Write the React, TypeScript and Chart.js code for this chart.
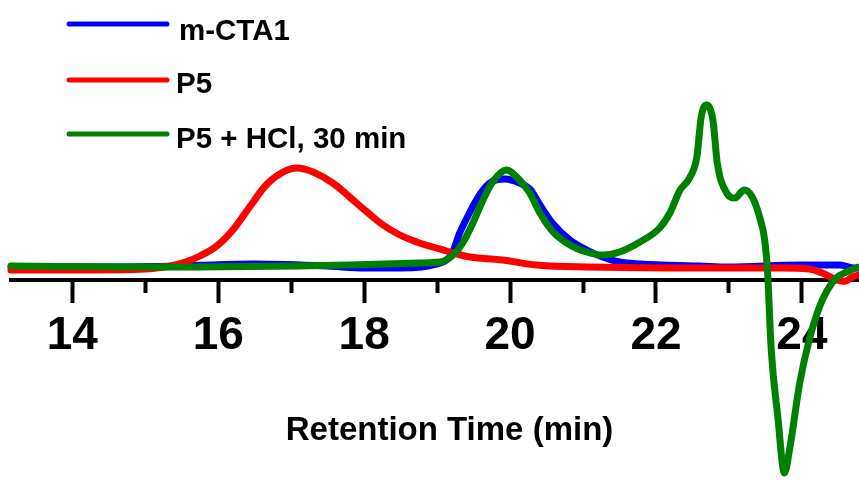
import React, { useEffect, useRef } from 'react';
import { Chart, registerables } from 'chart.js';

Chart.register(...registerables);

// Axis range and ticks (minutes)
const xMin = 13.16;
const xMax = 25.18;
const tickStep = 1;
const labelledTicks = [14, 16, 18, 20, 22, 24];
const axisTitle = 'Retention Time (min)';

// Series labels and colours
const seriesLabels = ['m-CTA1', 'P5', 'P5 + HCl, 30 min'];
const seriesColors = ['#0000FF', '#FF0000', '#008000'];

// m-CTA1 (blue)
const ctaTime = [13.16, 14.5, 15.5, 16.5, 17.5, 18.0, 18.5, 19.0, 19.2, 19.31, 19.45, 19.59, 19.72, 19.93, 20.13, 20.27, 20.41, 20.59, 20.82, 21.05, 21.27, 21.5, 21.78, 22.6, 23.0, 23.97, 24.52, 24.72, 24.78];
const ctaSignal = [13, 13, 14, 16, 14, 12, 12, 16, 26, 47, 68, 86, 97, 101, 97, 91, 75, 56, 40, 30, 23, 18, 16, 14, 13, 15, 15, 12, 12];

// P5 (red)
const p5Time = [13.16, 14.0, 15.0, 15.34, 15.55, 15.75, 15.98, 16.2, 16.43, 16.67, 16.89, 17.08, 17.3, 17.57, 17.8, 18.04, 18.26, 18.49, 18.72, 18.94, 19.13, 19.22, 19.45, 19.9, 20.37, 21.05, 22.33, 23.5, 24.1, 24.28, 24.48, 24.6, 24.69, 24.78];
const p5Signal = [10, 10, 11, 14, 18, 24, 34, 50, 73, 96, 108, 112, 108, 97, 83, 68, 55, 45, 38, 33, 29, 27, 23, 20, 15, 13, 12, 12, 11, 7, 0, -1, 3, 5];

// P5 + HCl, 30 min (green)
const hclTime = [13.16, 15.06, 17.8, 18.76, 19.04, 19.22, 19.35, 19.49, 19.63, 19.76, 19.95, 20.13, 20.27, 20.41, 20.59, 20.82, 21.05, 21.27, 21.5, 21.78, 22.05, 22.19, 22.33, 22.46, 22.56, 22.62, 22.69, 22.78, 22.84, 22.97, 23.08, 23.21, 23.32, 23.42, 23.49, 23.53, 23.58, 23.67, 23.76, 23.83, 23.97, 24.1, 24.24, 24.35, 24.47, 24.61, 24.78];
const hclSignal = [14, 13, 15, 17, 18, 25, 37, 57, 80, 98, 110, 100, 87, 67, 48, 35, 28, 25, 28, 38, 52, 67, 90, 102, 123, 163, 175, 160, 117, 87, 82, 90, 83, 63, 40, 7, -70, -137, -193, -170, -103, -60, -27, -10, 2, 8, 13];

const FONT = "'Liberation Sans', Arial, sans-serif";

const toPoints = (xs: number[], ys: number[]) => xs.map((x, i) => ({ x, y: ys[i] }));

const legendPlugin = {
  id: 'sketchLegend',
  afterDraw(chart: any) {
    const ctx = chart.ctx as CanvasRenderingContext2D;
    const lineYs = [24, 80, 134];
    const textYs = [40, 93, 148];
    chart.data.datasets.forEach((ds: any, i: number) => {
      ctx.save();
      ctx.strokeStyle = ds.borderColor;
      ctx.lineWidth = 5;
      ctx.lineCap = 'round';
      ctx.beginPath();
      ctx.moveTo(69, lineYs[i]);
      ctx.lineTo(167, lineYs[i]);
      ctx.stroke();
      ctx.fillStyle = '#000';
      ctx.font = `bold 29.5px ${FONT}`;
      ctx.textBaseline = 'alphabetic';
      ctx.textAlign = 'left';
      ctx.fillText(ds.label, i === 0 ? 179 : 176, textYs[i]);
      ctx.restore();
    });
  },
};

export default function App() {
  const ref = useRef<HTMLCanvasElement | null>(null);

  useEffect(() => {
    if (!ref.current) return;
    const series = [
      toPoints(ctaTime, ctaSignal),
      toPoints(p5Time, p5Signal),
      toPoints(hclTime, hclSignal),
    ];
    const drawOrder = [3, 2, 1];
    const chart = new Chart(ref.current, {
      type: 'line',
      data: {
        datasets: series.map((data, i) => ({
          label: seriesLabels[i],
          data,
          borderColor: seriesColors[i],
          backgroundColor: seriesColors[i],
          borderWidth: 7,
          pointRadius: 0,
          cubicInterpolationMode: (i === 1 ? 'default' : 'monotone') as any,
          tension: i === 1 ? 0.4 : 0,
          borderJoinStyle: 'round' as const,
          borderCapStyle: 'round' as const,
          fill: false,
          clip: false as any,
          order: drawOrder[i],
        })),
      },
      options: {
        responsive: false,
        animation: false,
        devicePixelRatio: 1,
        layout: { padding: { left: 11, right: 0, top: 0, bottom: 0 } },
        plugins: {
          legend: { display: false },
          tooltip: { enabled: false },
          title: { display: false },
        },
        scales: {
          x: {
            type: 'linear',
            position: 'bottom',
            min: xMin,
            max: xMax,
            afterFit: (scale: any) => {
              scale.height = 200;
            },
            border: { display: true, color: '#000', width: 4 },
            grid: {
              drawOnChartArea: false,
              drawTicks: true,
              tickLength: 23,
              tickWidth: 4,
              tickColor: '#000',
              tickBorderDash: (c: any) =>
                c.tick && labelledTicks.indexOf(c.tick.value) === -1 ? [11, 100] : [],
            },
            ticks: {
              stepSize: tickStep,
              includeBounds: false,
              autoSkip: false,
              maxRotation: 0,
              minRotation: 0,
              padding: 6,
              color: '#000',
              font: { family: FONT, size: 46, weight: 'bold' },
              callback: (v: any) => (labelledTicks.indexOf(Number(v)) !== -1 ? String(v) : ''),
            },
            title: {
              display: true,
              text: axisTitle,
              color: '#000',
              font: { family: FONT, size: 33, weight: 'bold' },
              padding: { top: 0, bottom: 29 },
            },
          },
          y: {
            type: 'linear',
            display: false,
            min: 0,
            max: 280,
          },
        },
      },
      plugins: [legendPlugin],
    });
    return () => chart.destroy();
  }, []);

  return (
    <div
      style={{
        position: 'fixed',
        left: 0,
        top: 0,
        width: 859,
        height: 480,
        overflow: 'hidden',
        background: '#fff',
      }}
    >
      <canvas ref={ref} width={888} height={480} style={{ display: 'block' }} />
    </div>
  );
}
